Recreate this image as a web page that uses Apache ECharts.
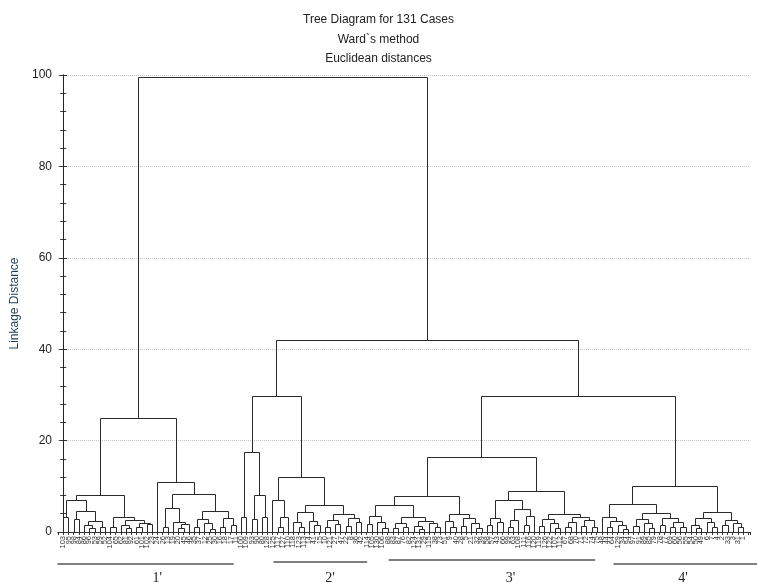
<!DOCTYPE html>
<html>
<head>
<meta charset="utf-8">
<script src="https://cdn.jsdelivr.net/npm/echarts/dist/echarts.min.js"></script>
<style>
  html, body { margin: 0; padding: 0; background: #fff; }
  #chart { width: 757px; height: 583px; }
</style>
</head>
<body>
<div id="chart"></div>
<script>
// Case numbers in dendrogram leaf order (left to right)
const caseOrder = [
  103, 95, 98, 84, 86, 96, 53, 59, 52, 104, 65, 62, 81, 92, 61, 101, 102, 23, 24, 26,
  13, 19, 20, 45, 46, 35, 37, 12, 25, 30, 16, 18, 17, 11,
  100, 109, 93, 90, 80, 128, 125, 117, 127, 110, 118, 123, 113, 14, 41, 15, 10, 121, 27, 47,
  22, 8, 36, 42,
  114, 105, 130, 106, 88, 83, 87, 76, 82, 124, 131, 29, 115, 38, 73, 51, 9, 40, 28, 5,
  21, 32, 39, 58, 57, 43, 66, 99, 63, 108, 111, 116, 120, 119, 126, 122, 107, 112, 67, 68,
  70, 71, 72, 74, 75,
  48, 44, 64, 129, 34, 94, 97, 91, 89, 85, 79, 78, 77, 69, 60, 56, 55, 54, 50, 49,
  6, 7, 4, 2, 33, 3, 31, 1
];

// Merge trees: [linkage distance, left, right]; a bare number is a leaf position in caseOrder
const cluster1 = [25.0,
  [8.2,
    [7.1, [3.3, 0, 1], [4.5, [2.9, 2, 3], [2.5, [1.6, 4, [0.8, 5, 6]], [1.2, 7, 8]]]],
    [3.2, [1.0, 9, 10], [2.6, [1.5, 11, [0.9, 12, 13]], [2.0, [1.2, 14, 15], [1.7, 16, 17]]]]],
  [11.0, 18,
    [8.3,
      [5.3, [1.0, 19, 20], [2.2, 21, [1.8, [0.9, 22, 23], 24]]],
      [4.5, [2.8, [1.0, 25, 26], [1.9, 27, [0.7, 28, 29]]], [3.0, [1.1, 30, 31], [1.6, 32, 33]]]]]
];

const cluster2 = [29.7,
  [17.5, [3.2, 34, 35], [8.0, [2.8, 36, 37], [3.2, 38, 39]]],
  [12.0,
    [7.0, 40, [3.3, [1.2, 41, 42], 43]],
    [5.8,
      [4.4, [2.2, 44, [1.0, 45, 46]], [2.5, 47, [1.5, 48, 49]]],
      [4.0, [2.6, [1.2, 50, 51], [1.8, 52, 53]], [3.0, [1.4, 54, 55], [2.1, 56, 57]]]]]
];

const cluster3 = [16.5,
  [7.8,
    [5.8,
      [3.5, [1.8, 58, 59], [2.2, 60, [0.8, 61, 62]]],
      [3.2, [2.0, [0.9, 63, 64], [1.2, 65, 66]], [2.5, [1.3, 67, [0.6, 68, 69]], [1.9, 70, [1.0, 71, 72]]]]],
    [4.0, [2.4, 73, [1.1, 74, 75]], [3.0, [1.4, 76, 77], [2.0, 78, [0.9, 79, 80]]]]],
  [9.0,
    [6.9,
      [3.0, [1.5, 81, 82], [2.1, 83, 84]],
      [5.0, [2.6, [1.2, 85, 86], 87], [3.4, [1.6, 88, 89], 90]]],
    [4.0,
      [2.8, [1.3, 91, 92], [2.0, 93, [0.8, 94, 95]]],
      [3.3, [2.2, [1.0, 96, 97], 98], [2.6, [1.4, 99, 100], [1.1, 101, 102]]]]]
];

const cluster4 = [10.1,
  [6.2,
    [3.2, 103, [2.3, [1.2, 104, 105], [1.6, 106, [0.7, 107, 108]]]],
    [4.2, [2.8, [1.3, 109, 110], [1.9, 111, [0.9, 112, 113]]],
          [3.1, [1.5, 114, 115], [2.2, [1.0, 116, 117], [1.2, 118, 119]]]]],
  [4.4,
    [3.0, [1.6, 120, [0.8, 121, 122]], [2.1, 123, [1.1, 124, 125]]],
    [2.6, [1.5, 126, 127], [1.9, 128, [1.0, 129, 130]]]]
];

// Upper joins
const joinHeights = { c3c4: 29.7, right: 42.0, root: 99.5 };
const tree = [joinHeights.root, cluster1, [joinHeights.right, cluster2, [joinHeights.c3c4, cluster3, cluster4]]];

// Hand-drawn group brackets under the leaves (in leaf-position units)
const groupNames = ["1'", "2'", "3'", "4'"];
const groupSpans = [[-1.1, 32.6], [40.2, 58.1], [62.2, 101.7], [105.2, 133]];
const groupLineY = [564, 562, 560, 564];
const groupLabelAt = [18, 51, 85.5, 118.5];

const titleLines = ['Tree Diagram for 131 Cases', 'Ward`s method', 'Euclidean distances'];
const yTicks = { min: 0, max: 100, interval: 20 };

// Build one U-shaped link per merge
const links = [];
function layout(node) {
  if (typeof node === 'number') return { x: node, h: 0 };
  const L = layout(node[1]);
  const R = layout(node[2]);
  links.push([L.x, L.h, R.x, R.h, node[0]]);
  return { x: (L.x + R.x) / 2, h: node[0] };
}
layout(tree);

const chart = echarts.init(document.getElementById('chart'), null, { renderer: 'canvas' });
const sans = "'Liberation Sans', Arial, sans-serif";
const crisp = p => [Math.round(p[0]) + 0.5, Math.round(p[1]) + 0.5];

chart.setOption({
  animation: false,
  backgroundColor: '#ffffff',
  title: titleLines.map((t, i) => ({
    text: t,
    left: 'center',
    top: 14 + i * 19.5,
    padding: 0,
    textStyle: { fontFamily: sans, fontSize: 12, fontWeight: 'normal', color: '#222' }
  })),
  grid: { left: 58, right: 7, top: 75, bottom: 51, containLabel: false, outerBoundsMode: 'none' },
  xAxis: [{
    type: 'value', min: -1, max: 131.3, interval: 1,
    axisLine: { show: true, lineStyle: { color: '#222', width: 1 } },
    axisTick: { show: false },
    splitLine: { show: false },
    axisLabel: {
      show: true, rotate: 90, margin: 4, fontSize: 7.5, color: '#333',
      fontFamily: sans,
      formatter: v => (Number.isInteger(v) && caseOrder[v] !== undefined) ? String(caseOrder[v]) : '',
      showMinLabel: true, showMaxLabel: true, hideOverlap: false
    }
  }, {
    type: 'value', position: 'top', min: -1, max: 131.3, interval: 1,
    axisLine: { show: true, lineStyle: { color: '#333', width: 1 } },
    axisTick: { show: true, inside: true, length: 3, lineStyle: { color: '#333' } },
    axisLabel: { show: false },
    splitLine: { show: false }
  }],
  yAxis: [{
    type: 'value', min: yTicks.min, max: yTicks.max, interval: yTicks.interval,
    name: 'Linkage Distance', nameLocation: 'middle', nameRotate: 90, nameGap: 33,
    nameTextStyle: { fontFamily: sans, fontSize: 12, color: '#1f3d55' },
    axisLine: { show: true, lineStyle: { color: '#222', width: 1 } },
    axisTick: { show: true, inside: true, length: 4, lineStyle: { color: '#333' } },
    minorTick: { show: true, splitNumber: 5, length: 3, lineStyle: { color: '#333' } },
    axisLabel: { fontFamily: sans, fontSize: 12, color: '#222', margin: 6 },
    splitLine: { show: true, lineStyle: { color: '#c4c4c4', type: 'dotted', width: 1 } }
  }, {
    type: 'value', position: 'right', min: yTicks.min, max: yTicks.max, interval: yTicks.interval,
    axisLine: { show: true, lineStyle: { color: '#222', width: 1 } },
    axisTick: { show: true, inside: true, length: 4, lineStyle: { color: '#333' } },
    minorTick: { show: true, splitNumber: 5, length: 3, lineStyle: { color: '#333' } },
    axisLabel: { show: false },
    splitLine: { show: false }
  }],
  series: [{
    type: 'custom',
    name: 'links',
    xAxisIndex: 0, yAxisIndex: 0,
    clip: false,
    encode: { x: [0, 2], y: [1, 3, 4] },
    data: links,
    renderItem: (params, api) => {
      const xl = api.value(0), hl = api.value(1), xr = api.value(2), hr = api.value(3), h = api.value(4);
      return {
        type: 'polyline',
        shape: { points: [
          crisp(api.coord([xl, hl])), crisp(api.coord([xl, h])),
          crisp(api.coord([xr, h])), crisp(api.coord([xr, hr]))
        ] },
        style: { stroke: '#2a2a2a', fill: null, lineWidth: 1 }
      };
    }
  }]
});

// Group brackets and their names, placed through the x axis scale
const gfx = [];
groupSpans.forEach((span, i) => {
  const x0 = chart.convertToPixel({ xAxisIndex: 0 }, span[0]);
  const x1 = chart.convertToPixel({ xAxisIndex: 0 }, span[1]);
  const xl = chart.convertToPixel({ xAxisIndex: 0 }, groupLabelAt[i]);
  gfx.push({
    type: 'line', silent: true,
    shape: { x1: x0, y1: groupLineY[i], x2: x1, y2: groupLineY[i] },
    style: { stroke: '#555', lineWidth: 1.5 }
  });
  gfx.push({
    type: 'text', silent: true, x: xl, y: 578,
    style: { text: groupNames[i], font: "14px 'Liberation Serif', 'Times New Roman', serif",
      fill: '#222', textAlign: 'center', textVerticalAlign: 'middle' }
  });
});
chart.setOption({ graphic: gfx });
</script>
</body>
</html>
